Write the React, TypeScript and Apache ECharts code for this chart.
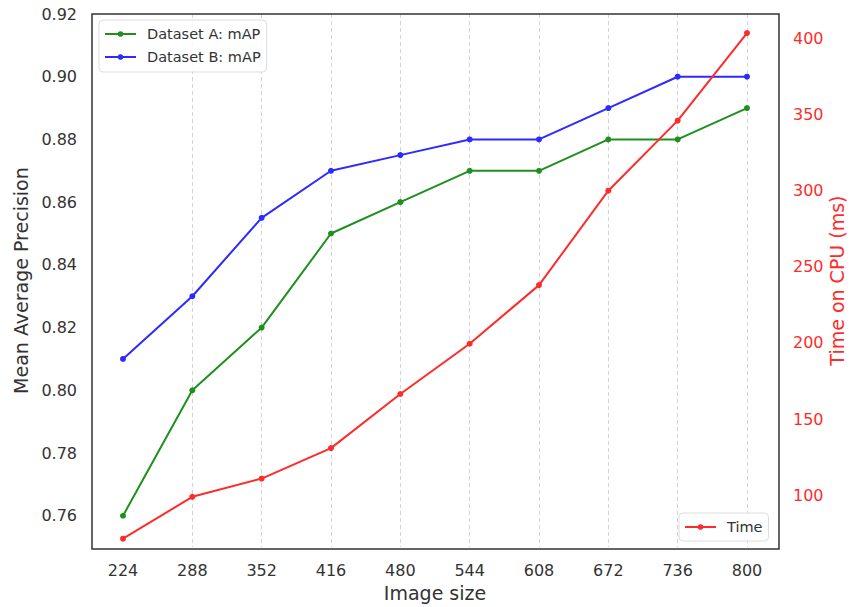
import React, { useEffect, useRef } from "react";
import * as echarts from "echarts";

const imageSizes = ["224", "288", "352", "416", "480", "544", "608", "672", "736", "800"];
const mapDatasetA = [0.76, 0.8, 0.82, 0.85, 0.86, 0.87, 0.87, 0.88, 0.88, 0.89];
const mapDatasetB = [0.81, 0.83, 0.855, 0.87, 0.875, 0.88, 0.88, 0.89, 0.9, 0.9];
const timeMs = [71.5, 99, 111, 131, 166.5, 199.5, 238, 300, 346, 403.5];
const mapTicks = [0.76, 0.78, 0.8, 0.82, 0.84, 0.86, 0.88, 0.9, 0.92];
const timeTicks = [100, 150, 200, 250, 300, 350, 400];

const FONT = "DejaVu Sans";
const GREEN = "#1f8f1f";
const BLUE = "#2b2bff";
const RED = "#ff2b2b";
const TEXT = "#333333";

export default function App() {
  const ref = useRef<HTMLDivElement>(null);
  useEffect(() => {
    if (!ref.current) return;
    const chart = echarts.init(ref.current, null, { renderer: "svg" });
    const legendBase = {
      orient: "vertical" as const,
      itemWidth: 31,
      itemHeight: 7,
      itemGap: 7,
      backgroundColor: "rgba(255,255,255,0.85)",
      borderColor: "#dddddd",
      borderWidth: 1,
      borderRadius: 4,
      textStyle: {
        fontFamily: FONT,
        fontSize: 14.5,
        lineHeight: 16,
        color: TEXT,
        padding: [0, 0, 0, 6],
      },
    };
    chart.setOption({
      animation: false,
      backgroundColor: "#ffffff",
      textStyle: { fontFamily: FONT },
      grid: { left: 123, right: 114, top: 14, bottom: 58 },
      legend: [
        {
          ...legendBase,
          left: 99,
          top: 20,
          padding: [6, 6, 7, 5],
          data: ["Dataset A: mAP", "Dataset B: mAP"],
        },
        {
          ...legendBase,
          left: 679,
          top: 513,
          padding: [6, 6, 6, 5],
          data: ["Time"],
        },
      ],
      xAxis: {
        type: "category",
        data: imageSizes,
        boundaryGap: false,
        name: "Image size",
        nameLocation: "middle",
        nameGap: 34,
        nameTextStyle: { fontFamily: FONT, fontSize: 19, color: TEXT },
        axisLine: { show: false },
        axisTick: { show: false },
        axisLabel: { margin: 15, fontFamily: FONT, fontSize: 16, color: TEXT },
        splitLine: {
          show: true,
          showMinLine: false,
          lineStyle: { color: "#d3d3d3", width: 1, type: [4, 3] },
        },
      },
      yAxis: [
        {
          type: "value",
          min: 0.75,
          max: 0.92,
          interval: 0.01,
          offset: 31,
          name: "Mean Average Precision",
          nameLocation: "middle",
          nameGap: 58,
          nameTextStyle: { fontFamily: FONT, fontSize: 19, color: TEXT },
          axisLine: { show: false },
          axisTick: { show: false },
          splitLine: { show: false },
          axisLabel: {
            margin: 15,
            fontFamily: FONT,
            fontSize: 16,
            color: TEXT,
            formatter: (v: number) =>
              mapTicks.some((t) => Math.abs(t - v) < 1e-6) ? v.toFixed(2) : "",
          },
        },
        {
          type: "value",
          position: "right",
          min: 66,
          max: 416,
          interval: 2,
          offset: 32,
          name: "Time on CPU (ms)",
          nameLocation: "middle",
          nameGap: 48,
          nameMoveOverlap: false,
          nameTextStyle: { fontFamily: FONT, fontSize: 19, color: RED },
          axisLine: { show: false },
          axisTick: { show: false },
          splitLine: { show: false },
          axisLabel: {
            margin: 14,
            fontFamily: FONT,
            fontSize: 16,
            color: RED,
            formatter: (v: number) =>
              timeTicks.some((t) => Math.abs(t - v) < 1e-6) ? String(Math.round(v)) : "",
          },
        },
      ],
      series: [
        {
          name: "Dataset A: mAP",
          type: "line",
          yAxisIndex: 0,
          data: mapDatasetA,
          symbol: "circle",
          symbolSize: 6,
          lineStyle: { color: GREEN, width: 2 },
          itemStyle: { color: GREEN },
        },
        {
          name: "Dataset B: mAP",
          type: "line",
          yAxisIndex: 0,
          data: mapDatasetB,
          symbol: "circle",
          symbolSize: 6,
          lineStyle: { color: BLUE, width: 2 },
          itemStyle: { color: BLUE },
        },
        {
          name: "Time",
          type: "line",
          yAxisIndex: 1,
          data: timeMs,
          symbol: "circle",
          symbolSize: 6,
          lineStyle: { color: RED, width: 2 },
          itemStyle: { color: RED },
        },
      ],
      graphic: [
        {
          type: "rect",
          z: 5,
          silent: true,
          shape: { x: 92, y: 14, width: 687, height: 535 },
          style: { fill: "none", stroke: "#333333", lineWidth: 1.5 },
        },
      ],
    });
    return () => chart.dispose();
  }, []);
  return (
    <div
      ref={ref}
      style={{ position: "fixed", left: 0, top: 0, width: 861, height: 607 }}
    />
  );
}
